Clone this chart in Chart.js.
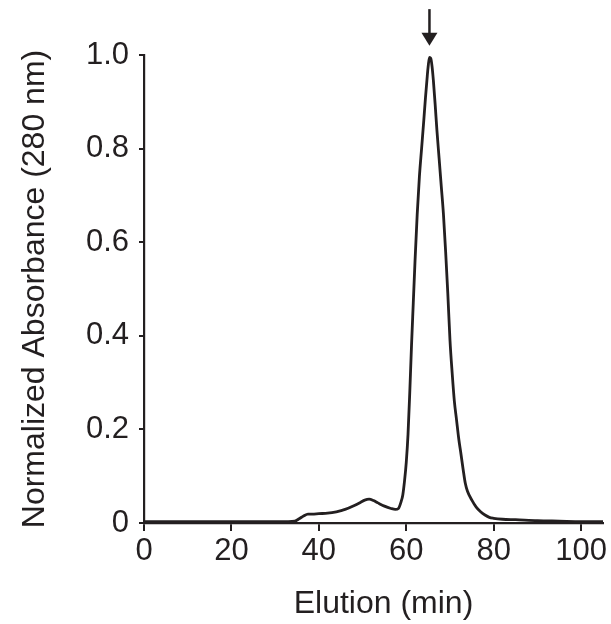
<!DOCTYPE html>
<html>
<head>
<meta charset="utf-8">
<script src="https://cdn.jsdelivr.net/npm/chart.js@4/dist/chart.umd.min.js"></script>
<style>
  html, body { margin: 0; padding: 0; background: #fff; }
  #wrap { width: 611px; height: 624px; }
</style>
</head>
<body>
<div id="wrap"><canvas id="c" width="611" height="624"></canvas></div>
<script>
// Elution time (min)
const elutionMin = [0, 5, 10, 15, 20, 25, 30, 33, 34.5, 35.5, 36.5, 37.5, 38.5, 40, 42, 44, 46, 48, 49.5, 50.5, 51.5, 52.5, 53.5, 55, 56.5, 57.5, 58.2, 58.8, 59.2, 59.6, 60.0, 60.4, 60.8, 61.2, 61.6, 62.0, 62.5, 63.0, 63.5, 64.0, 64.4, 64.8, 65.0, 65.3, 65.6, 65.9, 66.2, 66.6, 67.0, 67.5, 68.0, 68.5, 69.0, 69.5, 70.0, 70.5, 71.0, 71.5, 72.0, 72.5, 73.0, 73.5, 74.0, 75.0, 76.0, 77.0, 78.0, 79.0, 80, 82, 85, 90, 95, 100, 105];
// Normalized absorbance at 280 nm
const absorbance = [0.003, 0.003, 0.003, 0.003, 0.003, 0.003, 0.003, 0.003, 0.004, 0.009, 0.015, 0.019, 0.019, 0.020, 0.021, 0.024, 0.029, 0.037, 0.044, 0.049, 0.051, 0.048, 0.043, 0.036, 0.031, 0.029, 0.031, 0.045, 0.06, 0.09, 0.13, 0.19, 0.28, 0.38, 0.47, 0.56, 0.66, 0.74, 0.80, 0.86, 0.91, 0.955, 0.975, 0.995, 0.993, 0.975, 0.945, 0.895, 0.84, 0.78, 0.72, 0.66, 0.58, 0.49, 0.39, 0.32, 0.26, 0.22, 0.18, 0.148, 0.115, 0.085, 0.068, 0.049, 0.034, 0.024, 0.017, 0.012, 0.010, 0.008, 0.007, 0.005, 0.004, 0.003, 0.003];
const xTicks = [0, 20, 40, 60, 80, 100];
const yTicks = [0, 0.2, 0.4, 0.6, 0.8, 1.0];
const yTickLabels = ['0', '0.2', '0.4', '0.6', '0.8', '1.0'];
const xRange = [0, 105];
const yRange = [0, 1.0];
// Arrow marking the main peak (elution min, absorbance tail -> tip)
const arrowAt = 65.3;
const arrowFromTo = [1.098, 1.02];

const points = elutionMin.map((x, i) => ({ x: x, y: absorbance[i] }));

const INK = '#231f20';
const FONT = "'Liberation Sans', Arial, Helvetica, sans-serif";

const arrowPlugin = {
  id: 'peakArrow',
  afterLayout(chart) {
    // nudge the x-axis title slightly right, as in the original figure
    const xs = chart.scales.x;
    if (!xs._titleShifted) {
      const orig = xs.drawTitle;
      xs.drawTitle = function () {
        this.ctx.save();
        this.ctx.translate(10, 0);
        orig.call(this);
        this.ctx.restore();
      };
      xs._titleShifted = true;
    }
  },
  afterDraw(chart) {
    const { ctx } = chart;
    const xs = chart.scales.x, ys = chart.scales.y;
    const px = xs.getPixelForValue(arrowAt);
    const yTail = ys.getPixelForValue(arrowFromTo[0]);
    const yTip = ys.getPixelForValue(arrowFromTo[1]);
    const headH = 13, headW = 8;
    ctx.save();
    ctx.strokeStyle = INK;
    ctx.fillStyle = INK;
    ctx.lineWidth = 2.5;
    ctx.beginPath();
    ctx.moveTo(px, yTail);
    ctx.lineTo(px, yTip - headH + 1);
    ctx.stroke();
    ctx.beginPath();
    ctx.moveTo(px - headW, yTip - headH);
    ctx.lineTo(px + headW, yTip - headH);
    ctx.lineTo(px, yTip);
    ctx.closePath();
    ctx.fill();
    ctx.restore();
  }
};

new Chart(document.getElementById('c'), {
  type: 'line',
  data: {
    datasets: [{
      data: points,
      borderColor: INK,
      borderWidth: 2.8,
      pointRadius: 0,
      fill: false,
      cubicInterpolationMode: 'monotone',
      clip: 6
    }]
  },
  options: {
    responsive: false,
    animation: false,
    events: [],
    layout: { padding: { top: 55, right: 8, left: 0, bottom: 0 } },
    plugins: { legend: { display: false }, tooltip: { enabled: false } },
    scales: {
      x: {
        type: 'linear',
        min: xRange[0],
        max: xRange[1],
        afterBuildTicks: (s) => { s.ticks = xTicks.map(v => ({ value: v })); },
        afterFit: (s) => { s.height = 101; },
        border: { display: true, color: INK, width: 2.2 },
        grid: { display: true, drawOnChartArea: false, drawTicks: true, tickLength: 8, color: INK, lineWidth: 2 },
        ticks: { color: INK, font: { family: FONT, size: 31 }, padding: 2, maxRotation: 0 },
        title: { display: true, text: 'Elution (min)', color: INK, font: { family: FONT, size: 32 }, padding: { top: 0, bottom: 1 } }
      },
      y: {
        type: 'linear',
        min: yRange[0],
        max: yRange[1],
        afterBuildTicks: (s) => { s.ticks = yTicks.map(v => ({ value: v })); },
        afterFit: (s) => { s.width = 144; },
        border: { display: true, color: INK, width: 2.2 },
        grid: { display: true, drawOnChartArea: false, drawTicks: true, tickLength: 5, color: INK, lineWidth: 2 },
        ticks: {
          color: INK, font: { family: FONT, size: 31 }, padding: 10,
          callback: (v) => { const i = yTicks.findIndex(t => Math.abs(t - v) < 1e-9); return i >= 0 ? yTickLabels[i] : ''; }
        },
        title: { display: true, text: 'Normalized Absorbance (280 nm)', color: INK, font: { family: FONT, size: 32 }, padding: { top: 16, bottom: 0 } }
      }
    }
  },
  plugins: [arrowPlugin]
});
</script>
</body>
</html>
